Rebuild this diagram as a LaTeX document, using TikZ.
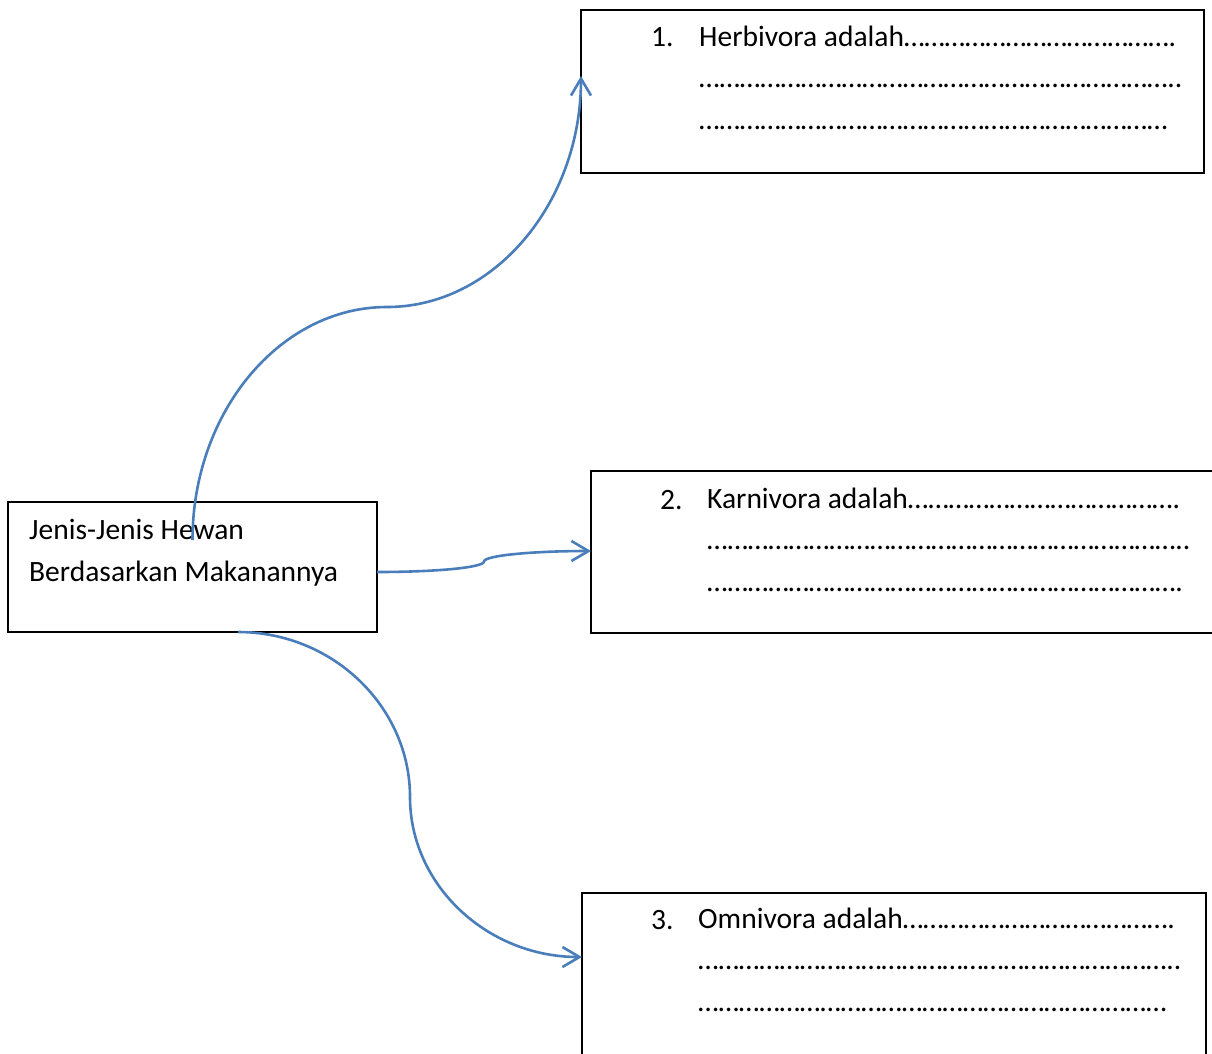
\documentclass[tikz,border=0pt]{standalone}
\usepackage{fontspec}
\setmainfont{Carlito}
\usetikzlibrary{calc,positioning,arrows.meta}
\definecolor{wordblue}{RGB}{74,126,187}
\tikzset{black box/.style={rectangle,draw,line width=2pt,inner sep=0pt,outer sep=0pt},
  box text/.style={anchor=base west,align=left,inner sep=0pt,font=\fontsize{29.5}{41.5}\selectfont},
  blue connector/.style={draw=wordblue,line width=2.6pt,-{Straight Barb[length=17pt,width=20pt]}}}
\newcommand{\titik}[1]{\foreach \n in {1,...,#1}{…}}

\begin{document}
\begin{tikzpicture}[x=1pt,y=-1pt]
\useasboundingbox (0,0) rectangle (1212,1053);

% Box on the left
\node[black box, minimum width=369pt, minimum height=130pt] (jenis) at (192.5,567) {};
\node[box text] (jenis text) at (29,581) {Jenis-Jenis Hewan\\Berdasarkan Makanannya};

% Three boxes on the right (text anchored at its last line)
\node[black box, minimum width=623pt, minimum height=163pt] (herbi) at (892.5,91.5) {};
\node[box text] (herbi num) at (651,46) {1.};
\node[box text] (herbi text) at (699,129) {Herbivora adalah\titik{13}.\\\titik{23}..\\\titik{23}};

\node[black box, minimum width=640pt, minimum height=162pt] (karni) at (911,552) {};
\node[box text] (karni num) at (660,509) {2.};
\node[box text] (karni text) at (707,591) {Karnivora adalah\titik{13}.\\\titik{23}..\\\titik{23}.};

\node[black box, minimum width=624pt, minimum height=184pt] (omni) at (894,985) {};
\node[box text] (omni num) at (651,929) {3.};
\node[box text] (omni text) at (698,1011) {Omnivora adalah\titik{13}.\\\titik{23}..\\\titik{23}};

% Curved connectors
\coordinate (bend1) at (387,307);
\coordinate (bend2) at (484,561.5);
\coordinate (bend3) at (410,797);

\draw[blue connector] ($(jenis.north)+(0,38)$) .. controls +(0,-128) and +(-107,0) .. (bend1)
  .. controls +(107,0) and +(0,127) .. ($(herbi.west)+(0,-15.5)$);
\draw[blue connector] ($(jenis.east)+(0,5)$) .. controls +(59,0) and +(0,6) .. (bend2)
  .. controls +(0,-6) and +(-58,0) .. ($(karni.west)+(0,-1)$);
\draw[blue connector] ($(jenis.south)+(45.5,0)$) .. controls +(95,0) and +(0,-90) .. (bend3)
  .. controls +(0,88) and +(-95,0) .. ($(omni.west)+(0,-28)$);

\end{tikzpicture}
\end{document}
